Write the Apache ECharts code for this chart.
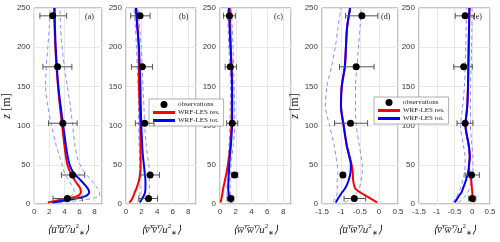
<!DOCTYPE html>
<html><head><meta charset="utf-8">
<script src="https://cdn.jsdelivr.net/npm/echarts@6/dist/echarts.min.js"></script>
<style>html,body{margin:0;padding:0;background:#fff}#c{width:500px;height:242px}</style>
</head><body><div id="c"></div>
<script>
// heights for model profiles (m)
const zLine = [2,5,10,15,20,30,40,50,60,75,100,125,150,175,200,225,250];
// panel (a) <u'u'>/u*^2
const aRes = [1.8,3.3,5.7,6.2,6.1,5.4,4.8,4.4,4.2,4.0,3.7,3.4,3.15,2.95,2.8,2.7,2.65];
const aTot = [2.4,4.5,6.8,7.3,7.1,6.2,5.2,4.7,4.45,4.2,3.85,3.5,3.2,3.0,2.85,2.75,2.7];
const aLo  = [2.0,3.3,4.8,5.3,5.2,4.6,4.0,3.7,3.4,2.9,2.3,1.8,1.5,1.6,1.8,2.0,2.1];
const aHi  = [3.2,6.5,8.6,8.7,8.4,7.6,6.7,6.1,5.7,5.4,5.1,4.8,4.4,4.0,3.7,3.5,3.4];
// panel (b) <v'v'>/u*^2
const bRes = [0.42,0.7,0.95,1.13,1.35,1.67,1.82,1.88,1.88,1.86,1.84,1.75,1.67,1.65,1.63,1.5,1.34];
const bTot = [1.76,1.97,2.26,2.45,2.5,2.5,2.4,2.3,2.18,2.08,1.97,1.9,1.84,1.76,1.67,1.45,1.25];
const bLo  = [1.5,1.6,1.75,1.8,1.8,1.78,1.76,1.76,1.72,1.68,1.63,1.6,1.55,1.45,1.35,1.2,1.05];
const bHi  = [2.7,2.8,2.9,3.0,3.0,3.0,3.0,2.93,2.8,2.6,2.4,2.3,2.18,2.08,1.97,1.75,1.55];
// panel (c) <w'w'>/u*^2
const cRes = [0.06,0.15,0.25,0.33,0.41,0.62,0.83,1.0,1.16,1.3,1.45,1.5,1.53,1.47,1.37,1.3,1.24];
const cTot = [1.45,1.3,1.16,1.08,1.04,1.08,1.12,1.18,1.24,1.38,1.53,1.55,1.53,1.45,1.33,1.22,1.12];
const cLo  = [1.1,1.0,0.92,0.9,0.9,0.92,0.95,0.98,1.05,1.15,1.24,1.3,1.33,1.25,1.12,1.02,0.95];
const cHi  = [1.6,1.5,1.4,1.3,1.28,1.3,1.33,1.4,1.5,1.68,1.87,1.85,1.78,1.72,1.66,1.55,1.45];
// panel (d) <u'w'>/u*^2
const dRes = [-0.05,-0.15,-0.33,-0.5,-0.63,-0.68,-0.69,-0.72,-0.77,-0.85,-0.93,-1.0,-0.98,-0.9,-0.87,-0.84,-0.76];
const dTot = [-1.14,-1.1,-1.04,-0.97,-0.89,-0.8,-0.75,-0.74,-0.78,-0.85,-0.93,-1.0,-0.98,-0.9,-0.87,-0.84,-0.76];
const dLo  = [-1.2,-1.18,-1.12,-1.1,-1.1,-1.1,-1.08,-1.1,-1.13,-1.18,-1.3,-1.41,-1.37,-1.25,-1.15,-1.08,-1.0];
const dHi  = [-0.9,-0.8,-0.68,-0.58,-0.52,-0.47,-0.44,-0.44,-0.47,-0.52,-0.6,-0.62,-0.62,-0.58,-0.54,-0.5,-0.47];
// panel (e) <v'w'>/u*^2
const eRes = [0.05,0.03,0.01,0.0,-0.01,-0.03,-0.08,-0.09,-0.07,-0.1,-0.19,-0.14,-0.12,-0.11,-0.1,-0.09,-0.08];
const eTot = [-0.5,-0.45,-0.38,-0.3,-0.26,-0.18,-0.12,-0.09,-0.07,-0.1,-0.19,-0.14,-0.12,-0.11,-0.1,-0.09,-0.08];
const eLo  = [-0.55,-0.5,-0.43,-0.38,-0.33,-0.27,-0.22,-0.2,-0.2,-0.25,-0.33,-0.27,-0.22,-0.2,-0.18,-0.17,-0.16];
const eHi  = [-0.4,-0.3,-0.2,-0.12,-0.08,-0.02,0.02,0.02,0.02,-0.01,-0.05,-0.05,-0.05,-0.03,-0.02,-0.01,-0.01];
// observations
const obsZ = [7,37,103,175,240];
const aObs = [4.4,5.1,3.8,3.1,2.45], aObsLo = [2.5,3.6,1.9,1.15,0.75], aObsHi = [6.4,6.7,5.7,5.0,4.3];
const bObs = [2.9,3.1,2.4,2.1,1.8],  bObsLo = [1.65,1.9,1.2,0.7,0.6],  bObsHi = [4.05,4.3,3.6,3.4,3.1];
const cObs = [1.37,1.85,1.55,1.3,1.2], cObsLo = [0.9,1.5,0.85,0.65,0.45], cObsHi = [1.75,2.25,2.25,2.1,1.95];
const dObs = [-0.65,-0.95,-0.75,-0.6,-0.45], dObsLo = [-0.92,-1.0,-1.17,-1.04,-0.88], dObsHi = [-0.35,-0.9,-0.3,-0.13,-0.03];
const eObs = [0.0,-0.02,-0.2,-0.24,-0.2], eObsLo = [-0.1,-0.2,-0.43,-0.52,-0.48], eObsHi = [0.1,0.2,0.02,0.0,0.06];

const panelLetters = ['(a)','(b)','(c)','(d)','(e)'];
const xNames = ["u̅′̅u̅′̅","v̅′̅v̅′̅","w̅′̅w̅′̅","u̅′̅w̅′̅","v̅′̅w̅′̅"];
const xRanges = [[0,9,2],[0,9,2],[0,9,2],[-1.5,0.5,0.5],[-1.5,0.5,0.5]];
const zTicks = [0,250,50];

const panels = [
  {res:aRes,tot:aTot,lo:aLo,hi:aHi,obs:aObs,oLo:aObsLo,oHi:aObsHi},
  {res:bRes,tot:bTot,lo:bLo,hi:bHi,obs:bObs,oLo:bObsLo,oHi:bObsHi},
  {res:cRes,tot:cTot,lo:cLo,hi:cHi,obs:cObs,oLo:cObsLo,oHi:cObsHi},
  {res:dRes,tot:dTot,lo:dLo,hi:dHi,obs:dObs,oLo:dObsLo,oHi:dObsHi},
  {res:eRes,tot:eTot,lo:eLo,hi:eHi,obs:eObs,oLo:eObsLo,oHi:eObsHi}
];
const gridPos = [[32,70],[126,70],[220,71],[322,76],[419,71]];
const TOP = 8, H = 206;

const pair = (xs) => xs.map((v,i)=>[v, zLine[i]]);
const grids=[], xAxes=[], yAxes=[], series=[], titles=[];
const lblColor = '#3a3a3a';
const serif = 'Liberation Serif';

panels.forEach((p, k) => {
  grids.push({left:gridPos[k][0], width:gridPos[k][1], top:TOP, height:H, show:true,
    borderColor:'#8a8a8a', borderWidth:1, backgroundColor:'#fff'});
  const xr = xRanges[k];
  xAxes.push({type:'value', gridIndex:k, min:xr[0], max:xr[1], interval:xr[2],
    axisLine:{show:false}, axisTick:{show:false},
    axisLabel:{fontSize:8, color:lblColor, margin:4, fontFamily:'Liberation Sans', showMaxLabel: k<3 ? false : true},
    splitLine:{show:true, lineStyle:{color:'#e8e8e8', width:1}},
    name:'{t|⟨' + xNames[k] + '/u}{s|2}{u|∗}{t|⟩}', nameLocation:'middle', nameGap:19,
    nameTextStyle:{rich:{
      t:{fontFamily:serif, fontStyle:'italic', fontSize:11, color:'#222', lineHeight:14},
      s:{fontFamily:serif, fontSize:7, color:'#222', verticalAlign:'top', lineHeight:14, padding:[0,0,6,0]},
      u:{fontFamily:serif, fontSize:7, color:'#222', verticalAlign:'bottom', lineHeight:14, padding:[4,0,0,0]}
    }}
  });
  yAxes.push({type:'value', gridIndex:k, min:zTicks[0], max:zTicks[1], interval:zTicks[2],
    axisLine:{show:false}, axisTick:{show:false},
    axisLabel:{fontSize:8, color:lblColor, margin:4, fontFamily:'Liberation Sans'},
    splitLine:{show:true, lineStyle:{color:'#e8e8e8', width:1}},
    name:(k===0||k===3)?'{i|z} {r|[m]}':'', nameLocation:'middle', nameGap:19, nameRotate:90,
    nameTextStyle:{rich:{i:{fontFamily:serif, fontStyle:'italic', fontSize:12, color:'#222'},
                         r:{fontFamily:serif, fontSize:12, color:'#222'}}}
  });
  titles.push({text:panelLetters[k], left:gridPos[k][0]+gridPos[k][1]-17, top:TOP+5,
    padding:0, textStyle:{fontFamily:serif, fontSize:8, fontWeight:'normal', color:'#222'}});
  const dashed = {type:'line', xAxisIndex:k, yAxisIndex:k, showSymbol:false, symbol:'none', smooth:0.3,
    lineStyle:{color:'#8c8cff', width:1, type:[4,3]}, silent:true, z:2};
  series.push(Object.assign({}, dashed, {name:'lo'+k, data:pair(p.lo)}));
  series.push(Object.assign({}, dashed, {name:'hi'+k, data:pair(p.hi)}));
  series.push({type:'line', name:'WRF-LES res.', xAxisIndex:k, yAxisIndex:k, symbol:'none', smooth:0.3,
    color:'#ff0000', lineStyle:{color:'#ff0000', width:2}, data:pair(p.res), z:3});
  series.push({type:'line', name:'WRF-LES tot.', xAxisIndex:k, yAxisIndex:k, symbol:'none', smooth:0.3,
    color:'#0000ff', lineStyle:{color:'#0000ff', width:2}, data:pair(p.tot), z:4});
  series.push({type:'custom', name:'err'+k, xAxisIndex:k, yAxisIndex:k, z:5, silent:true,
    data: obsZ.map((z,i)=>[p.oLo[i], p.oHi[i], z]),
    encode:{x:[0,1], y:2},
    renderItem:(params, api)=>{
      const a = api.coord([api.value(0), api.value(2)]);
      const b = api.coord([api.value(1), api.value(2)]);
      const c = 3;
      const st = {stroke:'#555', lineWidth:1};
      return {type:'group', children:[
        {type:'line', shape:{x1:a[0],y1:a[1],x2:b[0],y2:b[1]}, style:st},
        {type:'line', shape:{x1:a[0],y1:a[1]-c,x2:a[0],y2:a[1]+c}, style:st},
        {type:'line', shape:{x1:b[0],y1:b[1]-c,x2:b[0],y2:b[1]+c}, style:st}
      ]};
    }
  });
  series.push({type:'scatter', name:'observations', xAxisIndex:k, yAxisIndex:k, symbol:'circle', symbolSize:7,
    color:'#000', itemStyle:{color:'#000', opacity:1}, data: obsZ.map((z,i)=>[p.obs[i], z]), z:6});
});

const lineIcon = 'path://M0,0 L22,0 L22,3 L0,3 Z';
const legendBase = {orient:'vertical', backgroundColor:'#fff', borderColor:'#999', borderWidth:0.8,
  padding:[2,4,2,4], itemGap:1, itemWidth:22, itemHeight:7, selectedMode:false,
  textStyle:{fontFamily:serif, fontSize:7, color:'#222', padding:[0,0,0,-2]},
  data:[{name:'observations', icon:'circle', itemStyle:{color:'#000', opacity:1}},
        {name:'WRF-LES res.', icon:lineIcon},{name:'WRF-LES tot.', icon:lineIcon}]};
const legends = [
  Object.assign({}, legendBase, {left:149, top:99}),
  Object.assign({}, legendBase, {left:374, top:97})
];

const chart = echarts.init(document.getElementById('c'), null, {renderer:'canvas'});
chart.setOption({animation:false, title:titles, grid:grids, xAxis:xAxes, yAxis:yAxes, series:series, legend:legends});
</script></body></html>
